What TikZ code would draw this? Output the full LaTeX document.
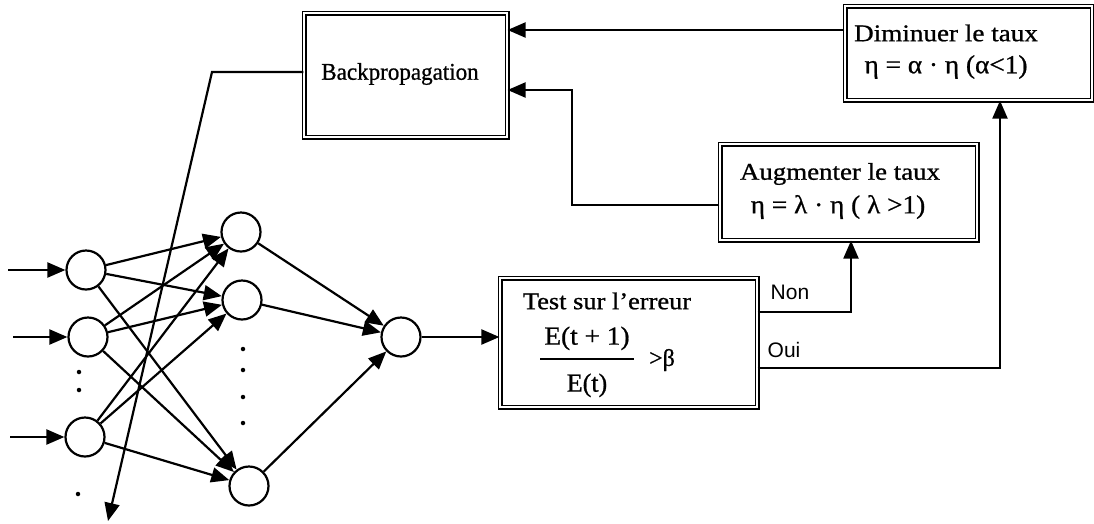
\documentclass[tikz,border=0pt]{standalone}
\usepackage{fontspec}
\setmainfont{Liberation Serif}
\newfontfamily\sansf{Liberation Sans}
\usetikzlibrary{arrows.meta}
\newcommand{\tx}[3]{{\fontsize{#1}{#1}\selectfont\addfontfeature{FakeBold=0.8}\scalebox{#2}[1]{#3}}}
\begin{document}
\begin{tikzpicture}[x=1pt,y=-1pt,
 line width=2.2pt,
 neuron/.style={circle,draw,minimum size=39pt,inner sep=0pt},
 box/.style={draw,double,double distance=2.6pt,line width=1.2pt,inner sep=0pt},
 arr/.style={-{Triangle[length=18pt,width=15pt]}},
 lbl/.style={inner sep=0pt,anchor=center},
 dot/.style={circle,fill,inner sep=0pt,minimum size=4.5pt}]
\useasboundingbox (0,0) rectangle (1094,523);
% neurons
\node[neuron] (I1) at (86,270) {};
\node[neuron] (I2) at (88,337) {};
\node[neuron] (I3) at (85,437) {};
\node[neuron] (H1) at (241,232) {};
\node[neuron] (H2) at (242,300) {};
\node[neuron] (H3) at (249,486) {};
\node[neuron] (O) at (401,337) {};
% dots
\node[dot] (d1) at (79,372) {};
\node[dot] (d2) at (79,390) {};
\node[dot] (d3) at (78,494) {};
\node[dot] (d4) at (243,349) {};
\node[dot] (d5) at (243,370) {};
\node[dot] (d6) at (243,397) {};
\node[dot] (d7) at (243,423) {};
% boxes
\node[box,minimum width=203pt,minimum height=124pt] (BP) at (405.5,75) {};
\node[box,minimum width=247pt,minimum height=94pt] (DIM) at (968.5,53) {};
\node[box,minimum width=257pt,minimum height=96pt] (AUG) at (848.5,192) {};
\node[box,minimum width=257pt,minimum height=129pt] (TEST) at (628.5,342.5) {};
% texts
\node[lbl] (bpt) at (400,74) {\tx{24pt}{0.96}{Backpropagation}};
\node[lbl] (dimt) at (946,33) {\tx{24pt}{1.13}{Diminuer le taux}};
\node[lbl] (dimf) at (946,67) {\tx{26pt}{1.05}{η = α · η (α<1)}};
\node[lbl] (augt) at (840,174) {\tx{24pt}{1.12}{Augmenter le taux}};
\node[lbl] (augf) at (838,207) {\tx{26pt}{1.05}{η = λ · η ( λ >1)}};
\node[lbl] (testt) at (607,301) {\tx{24pt}{1.1}{Test sur l'erreur}};
\node[lbl] (frac) at (587,359) {\fontsize{26pt}{24pt}\selectfont\addfontfeature{FakeBold=0.8}\setlength{\arrayrulewidth}{1.4pt}\renewcommand{\arraystretch}{1.9}\begin{tabular}{@{\hspace{4pt}}c@{\hspace{4pt}}}\scalebox{1.05}[1]{E(t + 1)}\\\hline E(t)\end{tabular}};
\node[lbl] (gt) at (662,360) {\tx{24pt}{1}{>β}};
\node[lbl] (non) at (790,292) {\sansf\fontsize{21pt}{21pt}\selectfont Non};
\node[lbl] (oui) at (784,350) {\sansf\fontsize{21pt}{21pt}\selectfont Oui};
% input arrows
\coordinate (in1) at (8,270);
\coordinate (in2) at (13,337);
\coordinate (in3) at (10,437);
\draw[arr] (in1) -- (I1);
\draw[arr] (in2) -- (I2);
\draw[arr] (in3) -- (I3);
% layer connections
\foreach \i in {I1,I2,I3} \foreach \h in {H1,H2,H3} \draw[arr] (\i) -- (\h);
\foreach \h in {H1,H2,H3} \draw[arr] (\h) -- (O);
\draw[arr] (O) -- (TEST.west |- O);
% backpropagation
\coordinate (bpc) at (212,72);
\coordinate (bpend) at (108,521);
\draw[arr] (BP.west |- bpc) -- (bpc) -- (bpend);
% Non
\coordinate (nonc) at (851,312);
\draw[arr] (TEST.east |- nonc) -- (nonc) -- (nonc |- AUG.south);
% Oui
\coordinate (ouic) at (1000,368);
\draw[arr] (TEST.east |- ouic) -- (ouic) -- (ouic |- DIM.south);
% Diminuer -> BP
\coordinate (y30) at (700,30);
\draw[arr] (DIM.west |- y30) -- (BP.east |- y30);
% Augmenter -> BP
\coordinate (augc) at (572,205);
\coordinate (augc2) at (572,90);
\draw[arr] (AUG.west |- augc) -- (augc) -- (augc2) -- (BP.east |- augc2);
\end{tikzpicture}
\end{document}
